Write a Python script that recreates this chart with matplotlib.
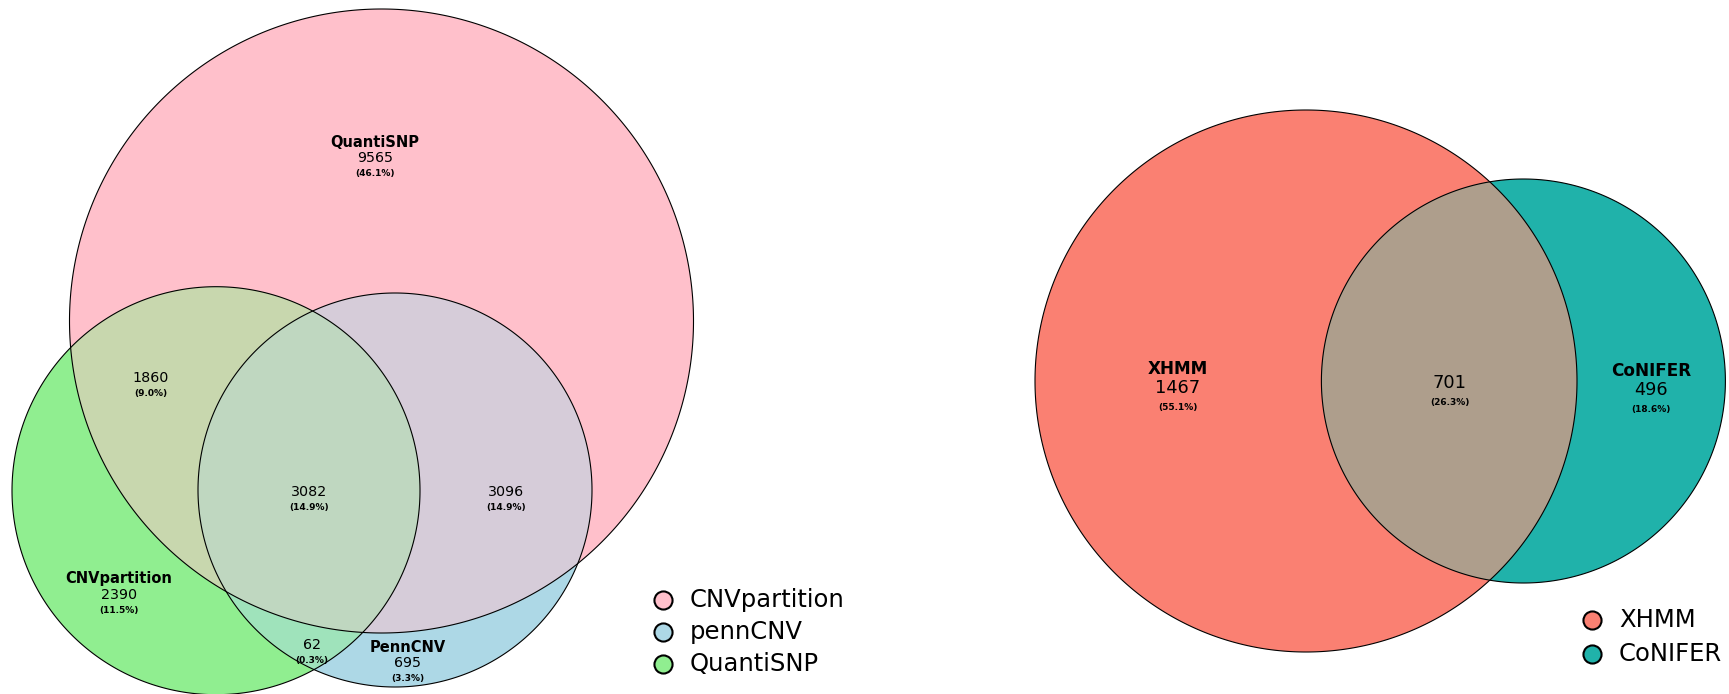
import numpy as np
import matplotlib
matplotlib.use("Agg")
import matplotlib.pyplot as plt
from matplotlib.patches import Polygon

# ---- data ----
# three-way comparison (SNP array callers)
left_legend_labels = ["CNVpartition", "pennCNV", "QuantiSNP"]
left_colors = ["#FFC0CB", "#ADD8E6", "#90EE90"]
left_region_keys = ["A", "AC", "ABC", "AB", "C", "BC", "B"]
left_region_counts = [9565, 1860, 3082, 3096, 2390, 62, 695]
left_region_names = {"A": "QuantiSNP", "C": "CNVpartition", "B": "PennCNV"}

# two-way comparison (exome callers)
right_legend_labels = ["XHMM", "CoNIFER"]
right_colors = ["#FA8072", "#20B2AA"]
right_region_keys = ["A", "AB", "B"]
right_region_counts = [1467, 701, 496]
right_region_names = {"A": "XHMM", "B": "CoNIFER"}

# ---- layout (pixel coordinates of the canvas) ----
left_circles = {"A": (381.5, 321.0, 312.0), "B": (395.0, 490.0, 197.0), "C": (216.0, 490.7, 204.0)}
right_circles = {"A": (1306.0, 381.0, 271.0), "B": (1523.4, 381.0, 202.0)}

left_label_pos = {"A": (375, 158), "AC": (151, 378), "ABC": (309, 492), "AB": (506, 492),
                  "C": (119, 595), "BC": (312, 645), "B": (408, 663)}
right_label_pos = {"A": (1178, 388), "AB": (1450, 383), "B": (1651, 390)}


def circle_poly(cx, cy, r, n=720):
    t = np.linspace(0, 2 * np.pi, n, endpoint=False)
    return np.column_stack([cx + r * np.cos(t), cy + r * np.sin(t)])


def clip_convex(subject, clip):
    """Sutherland-Hodgman clipping of a polygon by a convex polygon."""
    area = 0.5 * np.sum(clip[:, 0] * np.roll(clip[:, 1], -1) - np.roll(clip[:, 0], -1) * clip[:, 1])
    sign = 1 if area > 0 else -1
    out = [tuple(p) for p in subject]
    m = len(clip)
    for i in range(m):
        a = clip[i]
        b = clip[(i + 1) % m]
        inp = out
        out = []
        if not inp:
            break

        def inside(p):
            return sign * ((b[0] - a[0]) * (p[1] - a[1]) - (b[1] - a[1]) * (p[0] - a[0])) >= 0

        def inter(p, q):
            x1, y1 = p
            x2, y2 = q
            x3, y3 = a
            x4, y4 = b
            den = (x1 - x2) * (y3 - y4) - (y1 - y2) * (x3 - x4)
            t = ((x1 - x3) * (y3 - y4) - (y1 - y3) * (x3 - x4)) / den
            return (x1 + t * (x2 - x1), y1 + t * (y2 - y1))

        s = inp[-1]
        for e in inp:
            if inside(e):
                if not inside(s):
                    out.append(inter(s, e))
                out.append(e)
            elif inside(s):
                out.append(inter(s, e))
            s = e
    return np.array(out)


def mix(*cols):
    rgb = [np.array(matplotlib.colors.to_rgb(c)) for c in cols]
    return tuple(np.mean(rgb, axis=0))


def draw_venn(ax, circles, colors, overrides=None):
    keys = sorted(circles.keys())
    polys = {k: circle_poly(*circles[k]) for k in keys}
    cmap = dict(zip(keys, colors))
    overrides = overrides or {}
    # single sets
    for k in keys:
        ax.add_patch(Polygon(polys[k], closed=True, facecolor=cmap[k], edgecolor="none", zorder=1))
    # pairwise overlaps
    for i in range(len(keys)):
        for j in range(i + 1, len(keys)):
            a, b = keys[i], keys[j]
            p = clip_convex(polys[a], polys[b])
            col = overrides.get(a + b, mix(cmap[a], cmap[b]))
            ax.add_patch(Polygon(p, closed=True, facecolor=col, edgecolor="none", zorder=2))
    # triple overlap
    if len(keys) == 3:
        p = clip_convex(clip_convex(polys[keys[0]], polys[keys[1]]), polys[keys[2]])
        col = overrides.get("ABC", mix(*[cmap[k] for k in keys]))
        ax.add_patch(Polygon(p, closed=True, facecolor=col, edgecolor="none", zorder=3))
    # outlines
    for k in keys:
        ax.add_patch(Polygon(polys[k], closed=True, facecolor="none", edgecolor="black",
                             linewidth=0.8, zorder=4))


def draw_labels(ax, keys, counts, names, pos, fs_name, fs_count, fs_pct, d_name, d_pct):
    total = sum(counts)
    for k, c in zip(keys, counts):
        x, y = pos[k]
        if k in names:
            ax.text(x, y - d_name, names[k], ha="center", va="center", fontsize=fs_name,
                    fontweight="bold", zorder=6)
        ax.text(x, y, f"{c}", ha="center", va="center", fontsize=fs_count, zorder=6)
        ax.text(x, y + d_pct, f"({100 * c / total:.1f}%)", ha="center", va="center",
                fontsize=fs_pct, fontweight="bold", zorder=6)


def draw_legend(ax, labels, colors, x, ys, tx):
    for lab, col, y in zip(labels, colors, ys):
        ax.scatter([x], [y], s=170, facecolor=col, edgecolor="black", linewidth=1.5, zorder=6)
        ax.text(tx, y, lab, ha="left", va="center", fontsize=17.5, zorder=6)


fig = plt.figure(figsize=(17.29, 6.94), dpi=100)
ax = fig.add_axes([0, 0, 1, 1])
ax.set_xlim(0, 1729)
ax.set_ylim(694, 0)
ax.axis("off")

draw_venn(ax, left_circles, left_colors)
draw_venn(ax, right_circles, right_colors, overrides={"AB": "#AE9E8C"})

draw_labels(ax, left_region_keys, left_region_counts, left_region_names, left_label_pos,
            10.5, 10.3, 6.5, 16, 15)
draw_labels(ax, right_region_keys, right_region_counts, right_region_names, right_label_pos,
            12.2, 12.8, 6.5, 19, 19)

draw_legend(ax, left_legend_labels, left_colors, 662.7, [600, 632, 664], 690)
draw_legend(ax, right_legend_labels, right_colors, 1591.7, [620, 654], 1619)

fig.savefig("out.png", dpi=100)
